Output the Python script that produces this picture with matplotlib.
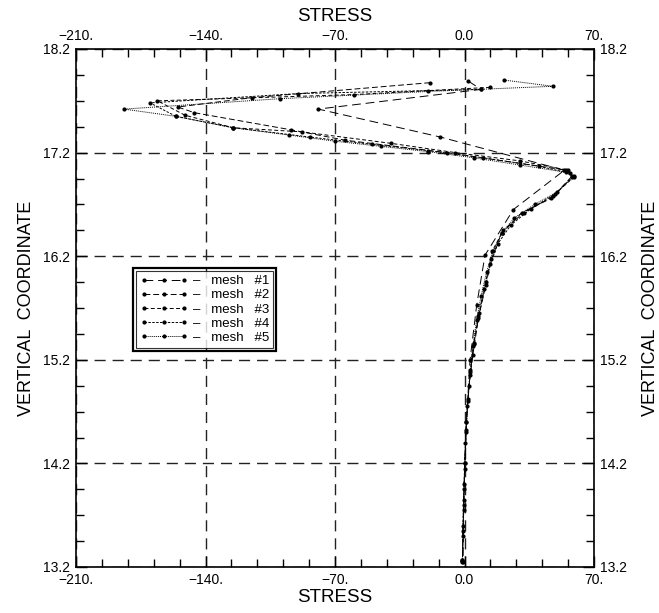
import matplotlib
matplotlib.use("Agg")
import matplotlib.pyplot as plt
from matplotlib.patches import Rectangle

plt.rcParams['font.family'] = ['Liberation Sans', 'DejaVu Sans']

# stress / vertical coordinate, one pair of lists per mesh
mesh1_x = [2.1, 8.9, -79, -13, 54, 26.4, 11.1, 6.6, 3.0, 1.0, -0.3, -0.8]
mesh1_y = [17.89, 17.81, 17.62, 17.35, 17.03, 16.65, 16.21, 15.73, 15.20, 14.60, 13.95, 13.25]

mesh2_x = [-18.6, -115, -155, -146, -93.8, -64.6, -9.6, 55, 58, 47, 31, 20, 14.5, 11.5,
           7.5, 4.5, 2.5, 1.0, 0.2, -0.5, -1.1]
mesh2_y = [17.875, 17.73, 17.64, 17.585, 17.42, 17.32, 17.2, 17.03, 16.97, 16.76, 16.62,
           16.42, 16.17, 15.92, 15.6, 15.25, 14.95, 14.6, 14.2, 13.75, 13.27]

mesh3_x = [13.8, -60, -166, -151, -125, -87.7, -40, -5, 30, 56, 59, 48, 32, 21, 15, 11.5,
           8, 5, 3, 1.5, 0.5, -0.2, -0.8, -1.1]
mesh3_y = [17.83, 17.76, 17.70, 17.56, 17.44, 17.40, 17.29, 17.2, 17.12, 17.03, 16.97, 16.78,
           16.62, 16.45, 16.25, 15.95, 15.65, 15.35, 15.05, 14.75, 14.4, 14.0, 13.6, 13.27]

mesh4_x = [8.9, -89.8, -170, -156, -125, -83.5, -50, -20, 10, 40, 57, 58, 49, 36, 25, 18,
           14, 10.5, 7.5, 5, 3.2, 1.8, 0.8, 0.1, -0.5, -0.9, -1.1]
mesh4_y = [17.81, 17.77, 17.68, 17.55, 17.44, 17.35, 17.28, 17.22, 17.15, 17.07, 17.0,
           16.96, 16.8, 16.66, 16.5, 16.32, 16.12, 15.88, 15.62, 15.36, 15.1, 14.82,
           14.52, 14.2, 13.85, 13.55, 13.26]

mesh5_x = [21.5, 47.7, -20, -100, -184, -156, -125, -95, -70, -45, -20, 5, 30, 55, 59, 50,
           38, 27, 20, 15.5, 12, 9, 6.5, 4.5, 3, 1.8, 0.9, 0.2, -0.4, -0.8, -1.1]
mesh5_y = [17.90, 17.84, 17.79, 17.72, 17.62, 17.55, 17.44, 17.37, 17.31, 17.26, 17.21,
           17.15, 17.08, 17.01, 16.96, 16.82, 16.7, 16.57, 16.42, 16.25, 16.05, 15.82,
           15.58, 15.33, 15.08, 14.8, 14.5, 14.15, 13.8, 13.5, 13.25]

labels = ['–   mesh   #1', '–   mesh   #2', '–   mesh   #3', '–   mesh   #4', '–   mesh   #5']
dash_styles = [(0, (9, 5)), (0, (6, 3)), (0, (4, 2.5)), (0, (2.5, 1.5)), (0, (1, 1))]

xticks = [-210, -140, -70, 0, 70]
xticklabels = ['−210.', '−140.', '−70.', '0.0', '70.']
yticks = [13.2, 14.2, 15.2, 16.2, 17.2, 18.2]
yticklabels = ['13.2', '14.2', '15.2', '16.2', '17.2', '18.2']

fig = plt.figure(figsize=(6.59, 6.13), dpi=100)
ax = fig.add_axes([76 / 659, 46 / 613, 518 / 659, 518 / 613])

meshes = [(mesh1_x, mesh1_y), (mesh2_x, mesh2_y), (mesh3_x, mesh3_y),
          (mesh4_x, mesh4_y), (mesh5_x, mesh5_y)]
for (xs, ys), ls, lab in zip(meshes, dash_styles, labels):
    ax.plot(xs, ys, color='black', lw=0.7, linestyle=ls, marker='o', ms=2.0,
            mfc='black', mec='black', label=lab)

ax.set_xlim(-210, 70)
ax.set_ylim(13.2, 18.2)
ax.set_xticks(xticks)
ax.set_xticklabels(xticklabels)
ax.set_yticks(yticks)
ax.set_yticklabels(yticklabels)
ax.set_xticks([-210 + 14 * i for i in range(21)], minor=True)
ax.set_yticks([13.2 + 0.25 * i for i in range(21)], minor=True)
ax.tick_params(which='both', direction='in', top=True, right=True, labeltop=True,
               labelright=True, labelsize=10, width=1, color='black')
ax.tick_params(which='major', length=8, pad=4)
ax.tick_params(which='minor', length=6)
for sp in ax.spines.values():
    sp.set_linewidth(1.2)

ax.grid(True, which='major', color='#222222', lw=1.0, linestyle=(0, (8, 5)))

ax.set_xlabel('STRESS', fontsize=13.5, labelpad=2)
ax.text(0.5, 1.062, 'STRESS', transform=ax.transAxes, ha='center', va='center', fontsize=13.5)
ax.set_ylabel('VERTICAL  COORDINATE', fontsize=13, labelpad=6)
ax.text(1.11, 0.5, 'VERTICAL  COORDINATE', transform=ax.transAxes, ha='center',
        va='center', rotation=90, fontsize=13)

leg = ax.legend(loc='upper left', bbox_to_anchor=(0.116, 0.571), numpoints=3,
                handlelength=3.6, fontsize=9.5, frameon=True, fancybox=False,
                borderpad=0.3, labelspacing=0.14, handletextpad=0.4, borderaxespad=0)
leg.get_frame().set_edgecolor('black')
leg.get_frame().set_linewidth(0.8)

fig.canvas.draw()
bb = leg.get_window_extent().transformed(fig.transFigure.inverted())
pad_x = 3 / 659
pad_y = 3 / 613
fig.patches.append(Rectangle((bb.x0 - pad_x, bb.y0 - pad_y), bb.width + 2 * pad_x,
                             bb.height + 2 * pad_y, transform=fig.transFigure,
                             fill=False, edgecolor='black', lw=1.6))

fig.savefig('out.png', dpi=100)
